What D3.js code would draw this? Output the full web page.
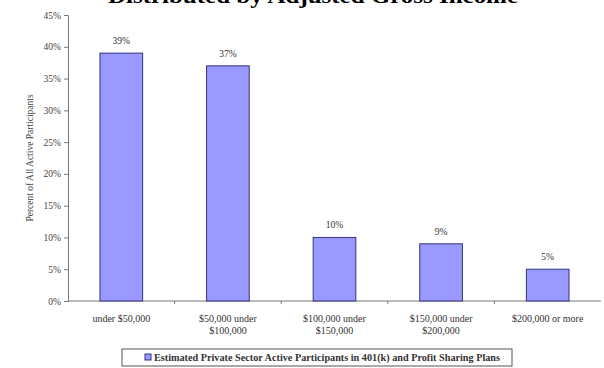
<!DOCTYPE html>
<html>
<head>
<meta charset="utf-8">
<script src="https://cdn.jsdelivr.net/npm/d3@7"></script>
<style>
  body { margin: 0; background: #fff; }
  svg { display: block; font-family: "Liberation Serif", "Times New Roman", serif; }
</style>
</head>
<body>
<svg id="chart" width="604" height="368"></svg>
<script>
var categories = ["under $50,000", "$50,000 under\n$100,000", "$100,000 under\n$150,000", "$150,000 under\n$200,000", "$200,000 or more"];
var values = [39, 37, 10, 9, 5];
var yTicks = [0, 5, 10, 15, 20, 25, 30, 35, 40, 45];
var seriesName = "Estimated Private Sector Active Participants in 401(k) and Profit Sharing Plans";

var svg = d3.select("#chart");
var margin = { left: 68, right: 3, top: 15, bottom: 67 };
var width = 604, height = 368;

var x = d3.scaleBand()
    .domain(categories)
    .range([margin.left, width - margin.right])
    .paddingInner(0.6)
    .paddingOuter(0.3);

var y = d3.scaleLinear()
    .domain([0, 45])
    .range([height - margin.bottom, margin.top]);

// title, clipped at the top in the original
svg.append("text")
    .attr("x", 313)
    .attr("y", 3)
    .attr("text-anchor", "middle")
    .attr("font-size", 20)
    .attr("font-weight", "bold")
    .attr("textLength", 410)
    .attr("lengthAdjust", "spacingAndGlyphs")
    .text("Distributed by Adjusted Gross Income");

// y axis
var yAxis = svg.append("g")
    .attr("transform", "translate(" + margin.left + ",0)")
    .call(d3.axisLeft(y).tickValues(yTicks).tickSize(4).tickFormat(function (d) { return d + "%"; }));
yAxis.select(".domain").attr("stroke", "#777");
yAxis.selectAll(".tick line").attr("stroke", "#777");
yAxis.selectAll(".tick text")
    .attr("font-family", "Liberation Serif")
    .attr("font-size", 9.5)
    .attr("fill", "#444")
    .attr("x", -7);

// x axis: ticks at category boundaries
var xAxisY = y(0);
var step = x.step();
svg.append("line")
    .attr("x1", margin.left).attr("x2", width - margin.right)
    .attr("y1", xAxisY).attr("y2", xAxisY)
    .attr("stroke", "#777");
svg.selectAll(".xtick")
    .data(categories.slice(1))
    .enter().append("line")
    .attr("x1", function (d) { return x(d) - (step - x.bandwidth()) / 2; })
    .attr("x2", function (d) { return x(d) - (step - x.bandwidth()) / 2; })
    .attr("y1", xAxisY).attr("y2", xAxisY + 3)
    .attr("stroke", "#777");

var xl = svg.selectAll(".xlabel")
    .data(categories)
    .enter().append("text")
    .attr("text-anchor", "middle")
    .attr("font-size", 10)
    .attr("fill", "#333")
    .attr("transform", function (d) { return "translate(" + (x(d) + x.bandwidth() / 2) + "," + (xAxisY + 21) + ")"; });
xl.selectAll("tspan")
    .data(function (d) { return d.split("\n"); })
    .enter().append("tspan")
    .attr("x", 0)
    .attr("dy", function (d, i) { return i === 0 ? 0 : 12; })
    .text(function (d) { return d; });

// y axis title
svg.append("text")
    .attr("transform", "translate(33," + ((y(0) + y(45)) / 2) + ") rotate(-90)")
    .attr("text-anchor", "middle")
    .attr("font-size", 9.5)
    .attr("fill", "#444")
    .text("Percent of All Active Participants");

// bars
svg.selectAll(".bar")
    .data(values)
    .enter().append("rect")
    .attr("x", function (d, i) { return x(categories[i]); })
    .attr("y", function (d) { return y(d); })
    .attr("width", x.bandwidth())
    .attr("height", function (d) { return y(0) - y(d); })
    .attr("fill", "#9999ff")
    .attr("stroke", "#333380")
    .attr("stroke-width", 1);

svg.selectAll(".vlabel")
    .data(values)
    .enter().append("text")
    .attr("x", function (d, i) { return x(categories[i]) + x.bandwidth() / 2; })
    .attr("y", function (d) { return y(d) - 9; })
    .attr("text-anchor", "middle")
    .attr("font-size", 9.5)
    .attr("fill", "#333")
    .text(function (d) { return d + "%"; });

// legend
var lg = svg.append("g").attr("transform", "translate(122,349)");
lg.append("rect")
    .attr("width", 390).attr("height", 17)
    .attr("fill", "#fff").attr("stroke", "#555");
lg.append("rect")
    .attr("x", 23).attr("y", 5).attr("width", 6).attr("height", 6)
    .attr("fill", "#9999ff").attr("stroke", "#333380");
lg.append("text")
    .attr("x", 32).attr("y", 12)
    .attr("font-size", 10)
    .attr("font-weight", "bold")
    .attr("fill", "#333")
    .attr("textLength", 346)
    .attr("lengthAdjust", "spacingAndGlyphs")
    .text(seriesName);
</script>
</body>
</html>
